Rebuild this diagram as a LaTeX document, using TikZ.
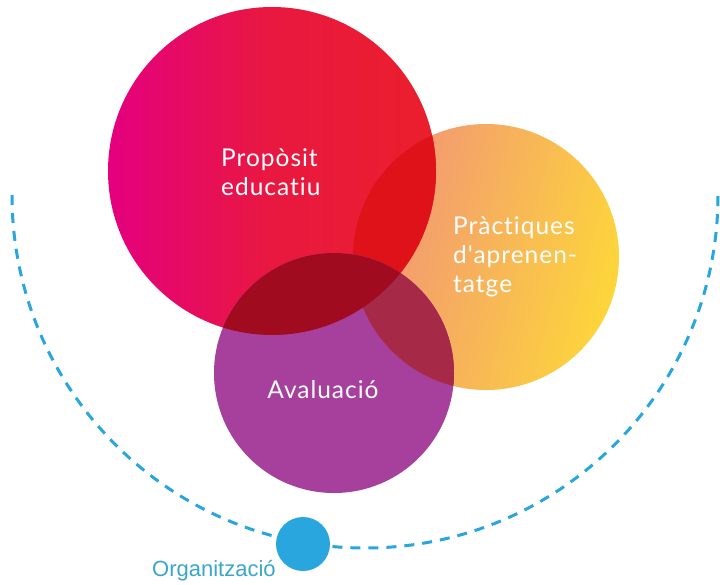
\documentclass[tikz,border=0pt]{standalone}
\usepackage{fontspec}
\setmainfont{Lato}[LetterSpace=4, Ligatures={TeXOff,CommonOff}]
\newfontfamily\orgfont{Liberation Sans}
\definecolor{cmag}{HTML}{E4007F}
\definecolor{cred}{HTML}{EA1F2B}
\definecolor{credmid}{HTML}{E91840}
\definecolor{csalmon}{HTML}{F1907A}
\definecolor{cyellow}{HTML}{FDD63A}
\definecolor{cro}{HTML}{E01219}
\definecolor{cpurple}{HTML}{A6409C}
\definecolor{cpo}{HTML}{A62947}
\definecolor{cpr}{HTML}{A00B1F}
\definecolor{cblue}{HTML}{29A6DE}
\definecolor{ctext}{HTML}{3BA6CC}
\tikzset{
  circtext/.style={text=white, font=\fontsize{24.5}{29}\selectfont, inner sep=0pt},
  dashedarc/.style={draw=cblue, line width=3pt, dash pattern=on 10pt off 8pt},
}
\begin{document}
\begin{tikzpicture}[x=1pt,y=-1pt]
\useasboundingbox (0,0) rectangle (720,584);
\fill[white] (0,0) rectangle (720,584);
\coordinate (R) at (272,171);
\coordinate (O) at (486,257);
\coordinate (P) at (334,373);
\def\rr{164}\def\ro{133}\def\rp{120}
% orange circle
\shade[top color=csalmon, bottom color=cyellow, shading angle=75] (O) circle[radius=\ro];
% red circle
\shade[left color=cmag, right color=cred, middle color=credmid] (R) circle[radius=\rr];
\begin{scope}
  \clip (R) circle[radius=\rr];
  \fill[cro] (O) circle[radius=\ro];
\end{scope}
% purple circle
\fill[cpurple] (P) circle[radius=\rp];
\begin{scope}
  \clip (P) circle[radius=\rp];
  \fill[cpo] (O) circle[radius=\ro];
  \fill[cpr] (R) circle[radius=\rr];
\end{scope}
% dashed arc
\coordinate (arcL) at (12,195);
\draw[dashedarc] (arcL) arc[start angle=180, end angle=0, radius=353];
\node[circle, fill=cblue, minimum size=54pt, inner sep=0pt] (dot) at (303,544) {};
% texts
\node[circtext, anchor=base west, align=left] (prop) at (221,195) {Propòsit\\educatiu};
\node[circtext, anchor=base west, align=left] (prac) at (453,292) {Pràctiques\\d'aprenen-\\tatge};
\node[circtext, anchor=base] (aval) at (323,398) {Avaluació};
\node[anchor=base west, inner sep=0pt, text=ctext, font=\orgfont\fontsize{22}{26}\selectfont] (org) at (152,576) {Organització};
\end{tikzpicture}
\end{document}
